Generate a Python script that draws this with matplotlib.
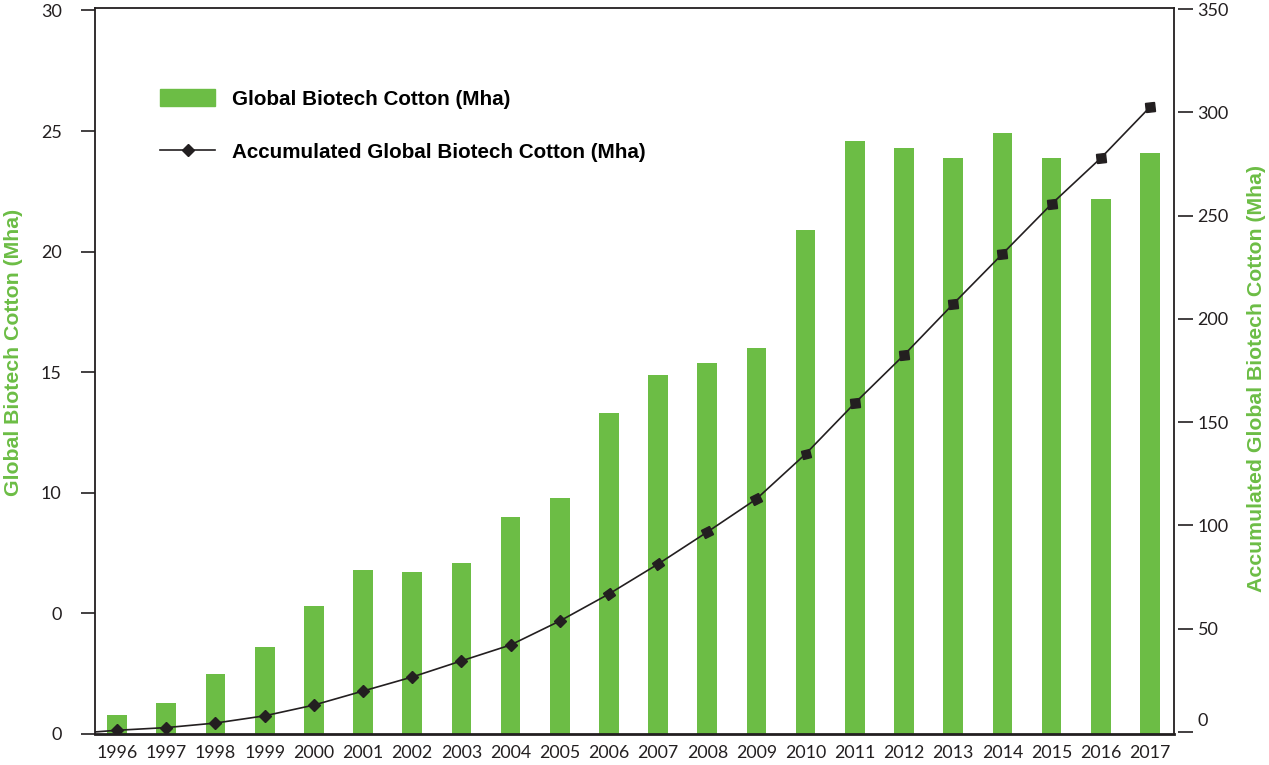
import matplotlib.pyplot as plt
import numpy as np
from matplotlib.markers import MarkerStyle
from matplotlib.transforms import Affine2D, ScaledTranslation
from matplotlib.patches import Patch
from matplotlib.lines import Line2D

# data
years = [1996, 1997, 1998, 1999, 2000, 2001, 2002, 2003, 2004, 2005, 2006,
         2007, 2008, 2009, 2010, 2011, 2012, 2013, 2014, 2015, 2016, 2017]
biotech_cotton = [0.8, 1.3, 2.5, 3.6, 5.3, 6.8, 6.7, 7.1, 9.0, 9.8, 13.3,
                  14.9, 15.4, 16.0, 20.9, 24.6, 24.3, 23.9, 24.9, 23.9, 22.2, 24.1]
accumulated = [0.8, 2.1, 4.3, 7.8, 13.0, 19.8, 26.6, 34.4, 42.1, 53.7, 66.8,
               81.3, 96.8, 112.8, 134.6, 159.2, 182.5, 207.2, 231.4, 255.6, 277.8, 302.5]
left_ticks = [0, 5, 10, 15, 20, 25, 30]
left_tick_labels = ['0', '0', '10', '15', '20', '25', '30']
right_ticks = [0, 50, 100, 150, 200, 250, 300, 350]

GREEN = '#6cbd45'
DARK = '#231f20'
tick_font = 'Lato'
label_font = 'Liberation Sans'

fig = plt.figure(figsize=(12.69, 7.65), dpi=100)
ax = fig.add_axes([95 / 1269, 1 - 734 / 765, (1174 - 95) / 1269, (734 - 8) / 765])
ax2 = ax.twinx()

x = np.arange(len(years))
x_left, x_right = -0.45, len(years) - 1 + 0.49

# bars
ax.bar(x, biotech_cotton, width=0.4, color=GREEN, zorder=2)
ax.set_xlim(x_left, x_right)
ax.set_ylim(0, 30.1)
ax.set_yticks(left_ticks)
ax.set_yticklabels(left_tick_labels)
ax.set_xticks(x)
ax.set_xticklabels([str(y) for y in years])
ax.tick_params(axis='y', direction='out', length=10, width=1.2, pad=14,
               colors=DARK, labelsize=13)
ax.tick_params(axis='x', length=0, pad=8, colors=DARK, labelsize=12.8)
ax.tick_params(axis='y', which='both', right=False)
for lab in ax.get_xticklabels() + ax.get_yticklabels():
    lab.set_fontfamily(tick_font)
for s in ax.spines.values():
    s.set_color(DARK)
    s.set_linewidth(1.3)
ax.spines['bottom'].set_linewidth(2)

# accumulated line, starting from the origin at the left frame
ax2.plot([x_left] + list(x), [0] + accumulated, color=DARK, lw=1.2, zorder=3)
angles = np.interp(years, [2005, 2011], [45, 10])
for xi, yi, ang in zip(x, accumulated, angles):
    m = MarkerStyle('s', transform=Affine2D().rotate_deg(ang))
    ax2.plot(xi, yi, marker=m, markersize=6.4, color=DARK, zorder=4)
ax2.set_xlim(x_left, x_right)
ax2.set_ylim(-1, 350.5)
ax2.set_yticks(right_ticks)
ax2.spines['right'].set_position(('outward', 3))
for s in ax2.spines.values():
    s.set_visible(False)
ax2.tick_params(axis='y', direction='out', length=11, width=1.2, pad=3,
                colors=DARK, labelsize=13)
for lab in ax2.get_yticklabels():
    lab.set_fontfamily(tick_font)
# the zero label sits above its tick in the original
zero_lab = ax2.get_yticklabels()[0]
zero_lab.set_transform(zero_lab.get_transform() +
                       ScaledTranslation(0, 12 / 100, fig.dpi_scale_trans))
ax2.set_zorder(ax.get_zorder() + 1)
ax.patch.set_visible(False)

# axis titles
fig.text(14 / 1269, 1 - 352 / 765, 'Global Biotech Cotton (Mha)', rotation=90,
         color=GREEN, fontsize=15.3, fontweight='bold', family=label_font,
         ha='center', va='center')
fig.text(1257 / 1269, 1 - 378 / 765, 'Accumulated Global Biotech Cotton (Mha)',
         rotation=90, color=GREEN, fontsize=15.3, fontweight='bold',
         family=label_font, ha='center', va='center')

# legend
handles = [Patch(color=GREEN),
           Line2D([], [], color=DARK, lw=1.2, marker='D', markersize=6.5)]
labels = ['Global Biotech Cotton (Mha)', 'Accumulated Global Biotech Cotton (Mha)']
leg = fig.legend(handles, labels, loc='upper left',
                 bbox_to_anchor=(160 / 1269, 1 - 89 / 765), frameon=False,
                 prop={'family': label_font, 'weight': 'bold', 'size': 14.9},
                 handlelength=2.66, handleheight=0.92, handletextpad=0.82,
                 labelspacing=1.6, borderpad=0, borderaxespad=0)
for t in leg.get_texts():
    t.set_color('black')

fig.savefig('out.png', dpi=100)
